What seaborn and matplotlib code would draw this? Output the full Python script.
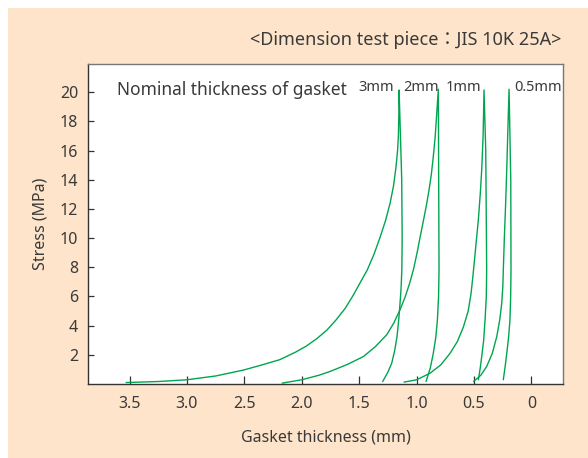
import matplotlib
matplotlib.use("Agg")
import matplotlib.pyplot as plt
import seaborn as sns
from matplotlib.patches import Rectangle

# Stress-thickness curves (loading up to 20 MPa, then unloading) per nominal gasket thickness
t3_load_x = [3.53, 3.25, 3.00, 2.75, 2.51, 2.35, 2.19, 2.05, 1.96, 1.87, 1.78, 1.70, 1.62,
             1.55, 1.48, 1.43, 1.37, 1.32, 1.27, 1.23, 1.20, 1.18, 1.165, 1.158, 1.154, 1.152]
t3_load_y = [0.10, 0.17, 0.29, 0.55, 0.95, 1.30, 1.67, 2.20, 2.60, 3.10, 3.70, 4.40, 5.20,
             6.10, 7.10, 7.80, 8.90, 10.0, 11.2, 12.4, 13.6, 14.8, 16.0, 17.0, 18.5, 20.15]
t3_unload_x = [1.152, 1.140, 1.129, 1.125, 1.128, 1.135, 1.144, 1.155, 1.170, 1.190, 1.216,
               1.250, 1.295]
t3_unload_y = [20.15, 17.0, 14.0, 10.0, 7.80, 6.50, 5.50, 4.40, 3.25, 2.30, 1.43, 0.80, 0.17]

t2_load_x = [2.17, 2.00, 1.85, 1.753, 1.60, 1.463, 1.36, 1.26, 1.20, 1.144, 1.10, 1.06,
             1.025, 0.995, 0.968, 0.94, 0.915, 0.893, 0.872, 0.855, 0.838, 0.825, 0.81]
t2_load_y = [0.06, 0.29, 0.60, 0.86, 1.35, 1.88, 2.55, 3.37, 4.15, 5.08, 5.95, 6.90,
             7.90, 9.00, 10.1, 11.2, 12.2, 13.2, 14.3, 15.5, 16.9, 18.4, 20.2]
t2_unload_x = [0.81, 0.807, 0.805, 0.804, 0.808, 0.818, 0.832, 0.854, 0.880, 0.917]
t2_unload_y = [20.2, 14.0, 10.0, 7.80, 6.00, 4.40, 3.20, 2.10, 1.10, 0.17]

t1_load_x = [1.109, 0.998, 0.882, 0.79, 0.708, 0.645, 0.592, 0.55, 0.525, 0.51, 0.495,
             0.478, 0.462, 0.445, 0.432, 0.42, 0.412]
t1_load_y = [0.13, 0.29, 0.74, 1.30, 2.10, 2.90, 3.90, 5.00, 6.20, 7.30, 8.50,
             9.90, 11.2, 13.0, 14.7, 17.0, 20.15]
t1_unload_x = [0.412, 0.397, 0.395, 0.391, 0.389, 0.392, 0.403, 0.415, 0.432, 0.445, 0.461]
t1_unload_y = [20.15, 16.0, 14.0, 10.0, 7.80, 6.00, 4.40, 3.00, 1.88, 1.10, 0.29]

t05_load_x = [0.504, 0.44, 0.389, 0.34, 0.301, 0.275, 0.258, 0.248, 0.244, 0.235, 0.224,
              0.214, 0.204, 0.194]
t05_load_y = [0.17, 0.60, 1.20, 2.10, 3.25, 4.40, 5.50, 6.70, 7.80, 10.0, 12.3,
              14.7, 17.5, 20.2]
t05_unload_x = [0.194, 0.179, 0.177, 0.180, 0.186, 0.198, 0.214, 0.228, 0.244]
t05_unload_y = [20.2, 14.0, 7.80, 6.00, 4.40, 3.20, 2.10, 1.20, 0.29]

thickness_labels = ["3mm", "2mm", "1mm", "0.5mm"]
x_ticks = [3.5, 3.0, 2.5, 2.0, 1.5, 1.0, 0.5, 0]
x_tick_labels = ["3.5", "3.0", "2.5", "2.0", "1.5", "1.0", "0.5", "0"]
y_ticks = [2, 4, 6, 8, 10, 12, 14, 16, 18, 20]

sns.set_theme(style="ticks")
plt.rcParams["font.family"] = ["Noto Sans", "Noto Sans CJK JP", "DejaVu Sans"]

TEXT = "#3a3a3a"
GREEN = "#00a550"
PEACH = "#fde4ca"

W, H = 588, 458
fig = plt.figure(figsize=(W / 100, H / 100), dpi=100, facecolor="white")
fig.patches.append(Rectangle((8 / W, 0), 1 - 8 / W, 1 - 8 / H, transform=fig.transFigure,
                             facecolor=PEACH, edgecolor="none", zorder=-10))

ax = fig.add_axes([88 / W, 1 - 384 / H, (563 - 88) / W, (384 - 64) / H])
ax.set_facecolor("white")

curves = [
    (t3_load_x + t3_unload_x[1:], t3_load_y + t3_unload_y[1:]),
    (t2_load_x + t2_unload_x[1:], t2_load_y + t2_unload_y[1:]),
    (t1_load_x + t1_unload_x[1:], t1_load_y + t1_unload_y[1:]),
    (t05_load_x + t05_unload_x[1:], t05_load_y + t05_unload_y[1:]),
]
for xs, ys in curves:
    sns.lineplot(x=xs, y=ys, sort=False, estimator=None, color=GREEN, linewidth=1.0, ax=ax)

ax.set_xlim(3.862, -0.276)
ax.set_ylim(0, 21.93)
ax.set_xticks(x_ticks)
ax.set_xticklabels(x_tick_labels)
ax.set_yticks(y_ticks)

ax.tick_params(axis="x", direction="in", length=6, width=0.9, color="#333333",
               labelsize=11.5, labelcolor=TEXT, pad=9)
ax.tick_params(axis="y", direction="in", length=4, width=0.9, color="#333333",
               labelsize=11.5, labelcolor=TEXT, pad=7)

for side in ["left", "bottom"]:
    ax.spines[side].set_color("#333333")
    ax.spines[side].set_linewidth(1.0)
for side in ["top", "right"]:
    ax.spines[side].set_visible(True)
    ax.spines[side].set_color("#777777")
    ax.spines[side].set_linewidth(1.0)

ax.set_xlabel("Gasket thickness (mm)", fontsize=11.5, color=TEXT, labelpad=12)
ax.set_ylabel("Stress (MPa)", fontsize=11.5, color=TEXT, labelpad=8)

ax.text(3.61, 20.15, "Nominal thickness of gasket", fontsize=12.5, color=TEXT,
        ha="left", va="center")
label_pos = [(1.20, "right"), (1.118, "left"), (0.743, "left"), (0.151, "left")]
for (lx, ha), lab in zip(label_pos, thickness_labels):
    ax.text(lx, 20.3, lab, fontsize=10.5, color=TEXT, ha=ha, va="center")

fig.text(561 / W, 1 - 40 / H, "<Dimension test piece：JIS 10K 25A>", fontsize=13,
         color=TEXT, ha="right", va="center")

fig.savefig("out.png", dpi=100, facecolor=fig.get_facecolor())
